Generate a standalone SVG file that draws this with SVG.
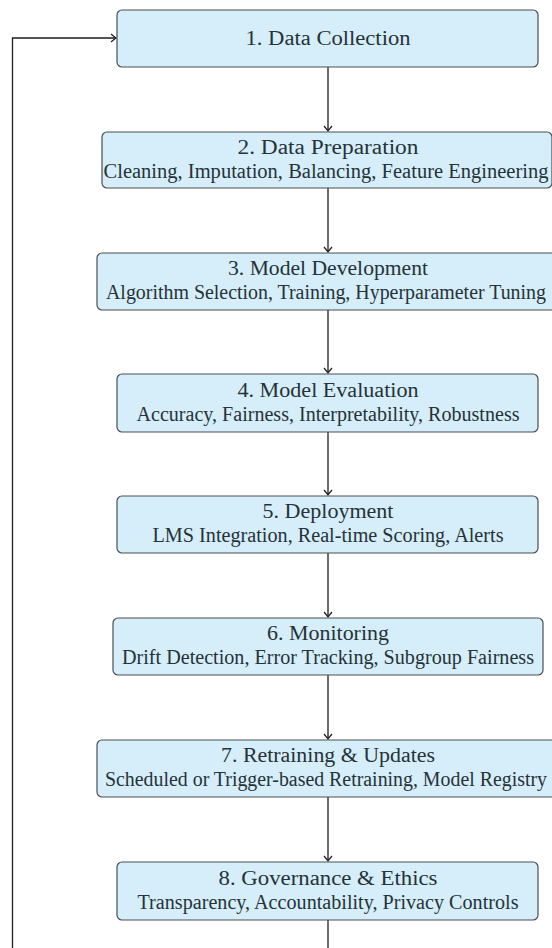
<svg xmlns="http://www.w3.org/2000/svg" width="552" height="948" viewBox="0 0 552 948">
<style>
.box{fill:#d5eefa;stroke:#4a4f52;stroke-width:1.2}
text{font-family:'Liberation Serif','Times New Roman',serif;font-size:20px;fill:#263238;text-anchor:middle}
.c{fill:none;stroke:#1e1e1e;stroke-width:1.3}
</style>
<defs>
<marker id="ah" markerUnits="userSpaceOnUse" markerWidth="12" markerHeight="12" viewBox="-8 -6 10 12" refX="0" refY="0" orient="auto">
<path d="M-5,-4 Q-1.5,-1 0,0 Q-1.5,1 -5,4" fill="none" stroke="#1e1e1e" stroke-width="1.2"/>
</marker>
</defs>
<rect width="552" height="948" fill="#ffffff"/>
<g id="connectors">
<path class="c" d="M12.5,948 V38 H116" marker-end="url(#ah)"/>
<path class="c" d="M328,67 V131" marker-end="url(#ah)"/>
<path class="c" d="M328,188 V252" marker-end="url(#ah)"/>
<path class="c" d="M328,310 V373" marker-end="url(#ah)"/>
<path class="c" d="M328,432 V495" marker-end="url(#ah)"/>
<path class="c" d="M328,553 V617" marker-end="url(#ah)"/>
<path class="c" d="M328,675 V739" marker-end="url(#ah)"/>
<path class="c" d="M328,797 V861" marker-end="url(#ah)"/>
<path class="c" d="M328,920 V948"/>
</g>
<g id="n1">
<rect class="box" x="117" y="10" width="421" height="57" rx="5"/>
<text x="328" y="45" textLength="165" lengthAdjust="spacingAndGlyphs">1. Data Collection</text>
</g>
<g id="n2">
<rect class="box" x="102" y="132" width="450" height="56" rx="5"/>
<text x="328" y="154" textLength="181" lengthAdjust="spacingAndGlyphs">2. Data Preparation</text>
<text x="326" y="178" textLength="445" lengthAdjust="spacingAndGlyphs">Cleaning, Imputation, Balancing, Feature Engineering</text>
</g>
<g id="n3">
<rect class="box" x="97" y="253" width="462" height="57" rx="5"/>
<text x="328" y="275" textLength="200" lengthAdjust="spacingAndGlyphs">3. Model Development</text>
<text x="326" y="299" textLength="440" lengthAdjust="spacingAndGlyphs">Algorithm Selection, Training, Hyperparameter Tuning</text>
</g>
<g id="n4">
<rect class="box" x="117" y="374" width="421" height="58" rx="5"/>
<text x="328" y="397" textLength="181" lengthAdjust="spacingAndGlyphs">4. Model Evaluation</text>
<text x="328" y="421" textLength="383" lengthAdjust="spacingAndGlyphs">Accuracy, Fairness, Interpretability, Robustness</text>
</g>
<g id="n5">
<rect class="box" x="117" y="496" width="421" height="57" rx="5"/>
<text x="328" y="518" textLength="131" lengthAdjust="spacingAndGlyphs">5. Deployment</text>
<text x="328" y="542" textLength="351" lengthAdjust="spacingAndGlyphs">LMS Integration, Real-time Scoring, Alerts</text>
</g>
<g id="n6">
<rect class="box" x="113" y="618" width="430" height="57" rx="5"/>
<text x="328" y="640" textLength="122" lengthAdjust="spacingAndGlyphs">6. Monitoring</text>
<text x="328" y="664" textLength="412" lengthAdjust="spacingAndGlyphs">Drift Detection, Error Tracking, Subgroup Fairness</text>
</g>
<g id="n7">
<rect class="box" x="97" y="740" width="462" height="57" rx="5"/>
<text x="328" y="762" textLength="214" lengthAdjust="spacingAndGlyphs">7. Retraining &amp; Updates</text>
<text x="326" y="786" textLength="442" lengthAdjust="spacingAndGlyphs">Scheduled or Trigger-based Retraining, Model Registry</text>
</g>
<g id="n8">
<rect class="box" x="117" y="862" width="421" height="58" rx="5"/>
<text x="328" y="885" textLength="219" lengthAdjust="spacingAndGlyphs">8. Governance &amp; Ethics</text>
<text x="328" y="909" textLength="381" lengthAdjust="spacingAndGlyphs">Transparency, Accountability, Privacy Controls</text>
</g>
</svg>
